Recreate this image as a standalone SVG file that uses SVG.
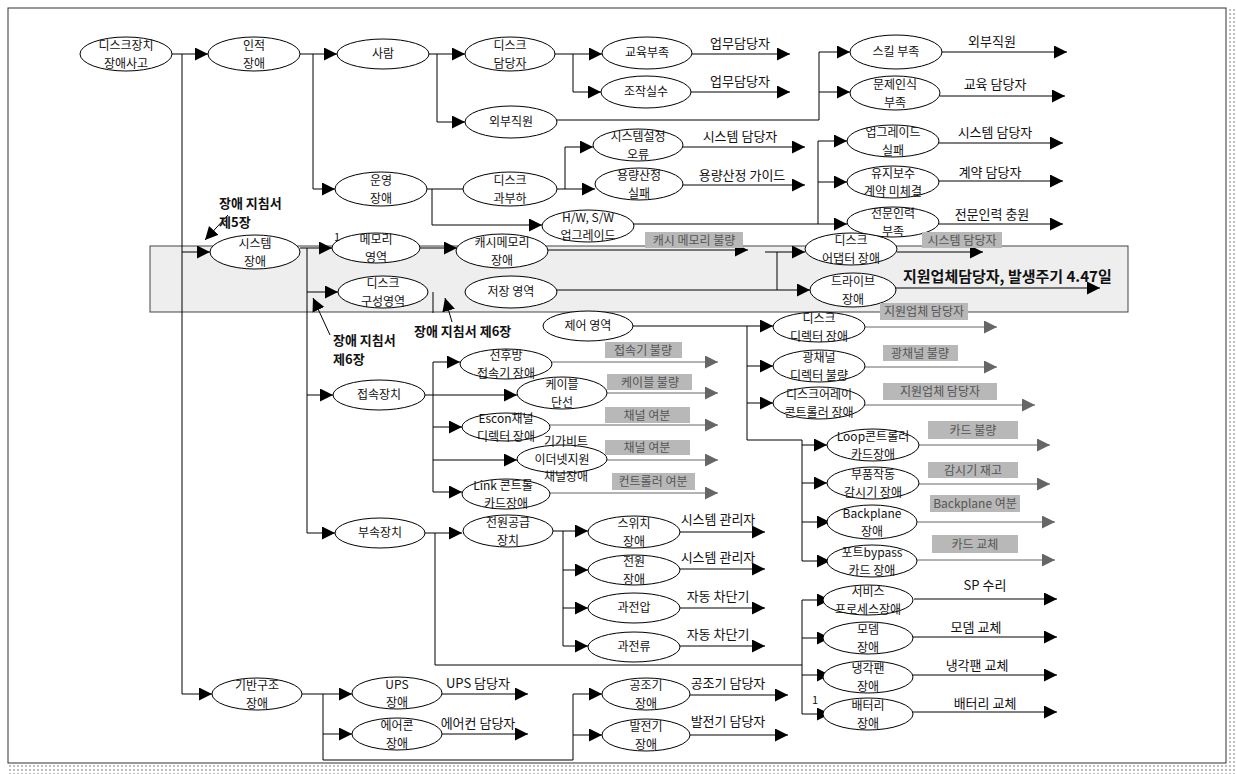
<svg xmlns="http://www.w3.org/2000/svg" width="1236" height="774" viewBox="0 0 1236 774">
<style>
.n ellipse{fill:#fff;stroke:#000;stroke-width:1}
.n text,.t{font-family:"Noto Sans CJK KR","Noto Sans",sans-serif;font-size:12px;fill:#111;text-anchor:middle}
.t{font-size:13px}
.b{font-weight:bold;text-anchor:start}
.c path{fill:none;stroke:#000;stroke-width:1}
.c .g{stroke:#666}
.gb rect{fill:#b8b8b8}
.gb text{font-family:"Noto Sans CJK KR","Noto Sans",sans-serif;font-size:12px;fill:#555;text-anchor:middle}
</style>
<defs>
<marker id="a" markerUnits="userSpaceOnUse" markerWidth="14" markerHeight="14" refX="13" refY="6.5" orient="auto"><path d="M0,0 L13,6.5 L0,13 z" fill="#000"/></marker>
<marker id="ag" markerUnits="userSpaceOnUse" markerWidth="14" markerHeight="14" refX="13" refY="6.5" orient="auto"><path d="M0,0 L13,6.5 L0,13 z" fill="#666"/></marker>
<pattern id="dots" width="4" height="4" patternUnits="userSpaceOnUse"><rect width="4" height="4" fill="#fff"/><circle cx="2" cy="2" r="1" fill="#aaa"/></pattern>
</defs>
<rect width="1236" height="774" fill="#fff"/>
<rect x="1228" y="8" width="8" height="766" fill="url(#dots)"/>
<rect x="8" y="765" width="1228" height="9" fill="url(#dots)"/>
<rect x="8" y="8" width="1218" height="755" fill="none" stroke="#333" stroke-width="1"/>
<rect x="150" y="246" width="978" height="66" fill="#eeeeee" stroke="#444" stroke-width="1"/>

<g class="c">
<path d="M172,54 H208" marker-end="url(#a)"/>
<path d="M182,54 V694 H212" marker-end="url(#a)"/>
<path d="M182,252 H210" marker-end="url(#a)"/>
<path d="M228,215 L205,240" marker-end="url(#a)"/>
<path d="M300,54 H337" marker-end="url(#a)"/>
<path d="M313,54 V189 H335" marker-end="url(#a)"/>
<path d="M428,54 H465" marker-end="url(#a)"/>
<path d="M437,54 V122 H465" marker-end="url(#a)"/>
<path d="M555,54 H602" marker-end="url(#a)"/>
<path d="M573,54 V92 H601" marker-end="url(#a)"/>
<path d="M691,54 H790" marker-end="url(#a)"/>
<path d="M691,92 H790" marker-end="url(#a)"/>
<path d="M557,120 H819 V52 H850" marker-end="url(#a)"/>
<path d="M819,92 H850" marker-end="url(#a)"/>
<path d="M942,52 H1067" marker-end="url(#a)"/>
<path d="M940,96 H1065" marker-end="url(#a)"/>
<path d="M427,189 H463"/>
<path d="M432,189 V225 H542" marker-end="url(#a)"/>
<path d="M557,189 H595" marker-end="url(#a)"/>
<path d="M565,189 V147 H593" marker-end="url(#a)"/>
<path d="M683,147 H805" marker-end="url(#a)"/>
<path d="M682,185 H805" marker-end="url(#a)"/>
<path d="M633,224 H847" marker-end="url(#a)"/>
<path d="M818,224 V141 H847" marker-end="url(#a)"/>
<path d="M818,182 H847" marker-end="url(#a)"/>
<path d="M939,143 H1063" marker-end="url(#a)"/>
<path d="M939,181 H1063" marker-end="url(#a)"/>
<path d="M939,224 H1063" marker-end="url(#a)"/>
<path d="M300,248 H332" marker-end="url(#a)"/>
<path d="M307,248 V533 H335" marker-end="url(#a)"/>
<path d="M307,292 H338" marker-end="url(#a)"/>
<path d="M307,395 H333" marker-end="url(#a)"/>
<path d="M330,335 L313,298" marker-end="url(#a)"/>
<path d="M452,322 L445,298" marker-end="url(#a)"/>
<path d="M433,292 V313"/>
<path d="M420,248 H457" marker-end="url(#a)"/>
<path d="M548,250 H748" marker-end="url(#a)"/>
<path d="M765,252 H805" marker-end="url(#a)"/>
<path d="M777,252 V290"/>
<path d="M557,290 H810" marker-end="url(#a)"/>
<path d="M897,252 H983" marker-end="url(#a)"/>
<path d="M896,288 H1100" marker-end="url(#a)"/>
<path d="M633,326 H773" marker-end="url(#a)"/>
<path d="M747,326 V440 H802 V561 H830" marker-end="url(#a)"/>
<path d="M747,366 H773" marker-end="url(#a)"/>
<path d="M747,403 H773" marker-end="url(#a)"/>
<path d="M802,445 H827" marker-end="url(#a)"/>
<path d="M802,483 H827" marker-end="url(#a)"/>
<path d="M802,522 H830" marker-end="url(#a)"/>
<path class="g" d="M865,327 H997" marker-end="url(#ag)"/>
<path class="g" d="M865,367 H997" marker-end="url(#ag)"/>
<path class="g" d="M865,405 H1035" marker-end="url(#ag)"/>
<path class="g" d="M919,445 H1050" marker-end="url(#ag)"/>
<path class="g" d="M919,484 H1050" marker-end="url(#ag)"/>
<path class="g" d="M917,522 H1055" marker-end="url(#ag)"/>
<path class="g" d="M917,560 H1055" marker-end="url(#ag)"/>
<path d="M914,599 H1057" marker-end="url(#a)"/>
<path d="M913,637 H1057" marker-end="url(#a)"/>
<path d="M913,675 H1057" marker-end="url(#a)"/>
<path d="M913,712 H1057" marker-end="url(#a)"/>
<path d="M425,533 H462" marker-end="url(#a)"/>
<path d="M435,533 V665 H802"/>
<path d="M802,714 V600 H830" marker-end="url(#a)"/>
<path d="M802,638 H830" marker-end="url(#a)"/>
<path d="M802,675 H830" marker-end="url(#a)"/>
<path d="M802,714 H830" marker-end="url(#a)"/>
<path d="M553,531 H588" marker-end="url(#a)"/>
<path d="M563,531 V646 H588" marker-end="url(#a)"/>
<path d="M563,570 H588" marker-end="url(#a)"/>
<path d="M563,608 H588" marker-end="url(#a)"/>
<path d="M680,532 H765" marker-end="url(#a)"/>
<path d="M680,569 H765" marker-end="url(#a)"/>
<path d="M680,608 H765" marker-end="url(#a)"/>
<path d="M680,646 H765" marker-end="url(#a)"/>
<path d="M425,395 H517" marker-end="url(#a)"/>
<path d="M433,362 V492 H462" marker-end="url(#a)"/>
<path d="M433,362 H460" marker-end="url(#a)"/>
<path d="M433,427 H462" marker-end="url(#a)"/>
<path d="M433,460 H517" marker-end="url(#a)"/>
<path class="g" d="M552,362 H718" marker-end="url(#ag)"/>
<path class="g" d="M607,393 H718" marker-end="url(#ag)"/>
<path class="g" d="M550,425 H718" marker-end="url(#ag)"/>
<path class="g" d="M607,460 H718" marker-end="url(#ag)"/>
<path class="g" d="M550,493 H718" marker-end="url(#ag)"/>
<path d="M302,694 H352" marker-end="url(#a)"/>
<path d="M323,694 V760 H573 V694 H602" marker-end="url(#a)"/>
<path d="M323,734 H352" marker-end="url(#a)"/>
<path d="M573,735 H602" marker-end="url(#a)"/>
<path d="M442,694 H528" marker-end="url(#a)"/>
<path d="M442,734 H528" marker-end="url(#a)"/>
<path d="M690,695 H788" marker-end="url(#a)"/>
<path d="M690,735 H788" marker-end="url(#a)"/>
</g>

<g class="n" id="n1"><ellipse cx="126" cy="54" rx="46" ry="17"/><text x="126" y="50">디스크장치</text><text x="126" y="67.5">장애사고</text></g>
<g class="n" id="n2"><ellipse cx="254" cy="54" rx="46" ry="17"/><text x="254" y="50">인적</text><text x="254" y="67.5">장애</text></g>
<g class="n" id="n3"><ellipse cx="383" cy="54" rx="46" ry="15"/><text x="383" y="58">사람</text></g>
<g class="n" id="n4"><ellipse cx="510" cy="54" rx="45" ry="17"/><text x="510" y="50">디스크</text><text x="510" y="67.5">담당자</text></g>
<g class="n" id="n5"><ellipse cx="647" cy="53" rx="45" ry="16"/><text x="647" y="57">교육부족</text></g>
<g class="n" id="n6"><ellipse cx="646" cy="92" rx="45" ry="16"/><text x="646" y="96">조작실수</text></g>
<g class="n" id="n7"><ellipse cx="511" cy="122" rx="46" ry="16"/><text x="511" y="126">외부직원</text></g>
<g class="n" id="n8"><ellipse cx="896" cy="52" rx="46" ry="17"/><text x="896" y="56">스킬 부족</text></g>
<g class="n" id="n9"><ellipse cx="895" cy="93" rx="45" ry="17"/><text x="895" y="89">문제인식</text><text x="895" y="106.5">부족</text></g>
<g class="n" id="n10"><ellipse cx="381" cy="189" rx="46" ry="17"/><text x="381" y="185">운영</text><text x="381" y="202.5">장애</text></g>
<g class="n" id="n11"><ellipse cx="510" cy="189" rx="47" ry="17"/><text x="510" y="185">디스크</text><text x="510" y="202.5">과부하</text></g>
<g class="n" id="n12"><ellipse cx="638" cy="145" rx="45" ry="16"/><text x="638" y="141">시스템설정</text><text x="638" y="158.5">오류</text></g>
<g class="n" id="n13"><ellipse cx="639" cy="184" rx="44" ry="16"/><text x="639" y="180">용량산정</text><text x="639" y="197.5">실패</text></g>
<g class="n" id="n14"><ellipse cx="588" cy="226" rx="46" ry="16"/><text x="588" y="222">H/W, S/W</text><text x="588" y="239.5">업그레이드</text></g>
<g class="n" id="n15"><ellipse cx="893" cy="141" rx="46" ry="16"/><text x="893" y="137">업그레이드</text><text x="893" y="154.5">실패</text></g>
<g class="n" id="n16"><ellipse cx="893" cy="182" rx="46" ry="16"/><text x="893" y="178">유지보수</text><text x="893" y="195.5">계약 미체결</text></g>
<g class="n" id="n17"><ellipse cx="893" cy="222" rx="46" ry="15"/><text x="893" y="218">전문인력</text><text x="893" y="235.5">부족</text></g>
<g class="n" id="n18"><ellipse cx="255" cy="252" rx="45" ry="17"/><text x="255" y="248">시스템</text><text x="255" y="265.5">장애</text></g>
<g class="n" id="n19"><ellipse cx="376" cy="248" rx="44" ry="15"/><text x="376" y="244">메모리</text><text x="376" y="261.5">영역</text></g>
<g class="n" id="n20"><ellipse cx="502" cy="251" rx="46" ry="17"/><text x="502" y="247">캐시메모리</text><text x="502" y="264.5">장애</text></g>
<g class="n" id="n21"><ellipse cx="383" cy="292" rx="45" ry="16"/><text x="383" y="288">디스크</text><text x="383" y="305.5">구성영역</text></g>
<g class="n" id="n22"><ellipse cx="511" cy="292" rx="46" ry="16"/><text x="511" y="296">저장 영역</text></g>
<g class="n" id="n23"><ellipse cx="588" cy="326" rx="45" ry="15"/><text x="588" y="330">제어 영역</text></g>
<g class="n" id="n24"><ellipse cx="851" cy="249" rx="46" ry="16"/><text x="851" y="245">디스크</text><text x="851" y="262.5">어댑터 장애</text></g>
<g class="n" id="n25"><ellipse cx="853" cy="290" rx="43" ry="17"/><text x="853" y="286">드라이브</text><text x="853" y="303.5">장애</text></g>
<g class="n" id="n26"><ellipse cx="819" cy="327" rx="46" ry="15"/><text x="819" y="323">디스크</text><text x="819" y="340.5">디렉터 장애</text></g>
<g class="n" id="n27"><ellipse cx="819" cy="366" rx="46" ry="16"/><text x="819" y="362">광채널</text><text x="819" y="379.5">디렉터 불량</text></g>
<g class="n" id="n28"><ellipse cx="819" cy="403" rx="46" ry="16"/><text x="819" y="399">디스크어레이</text><text x="819" y="416.5">콘트롤러 장애</text></g>
<g class="n" id="n29"><ellipse cx="873" cy="445" rx="46" ry="16"/><text x="873" y="441">Loop콘트롤러</text><text x="873" y="458.5">카드장애</text></g>
<g class="n" id="n30"><ellipse cx="873" cy="483" rx="46" ry="16"/><text x="873" y="479">부품작동</text><text x="873" y="496.5">감시기 장애</text></g>
<g class="n" id="n31"><ellipse cx="872" cy="522" rx="45" ry="17"/><text x="872" y="518">Backplane</text><text x="872" y="535.5">장애</text></g>
<g class="n" id="n32"><ellipse cx="872" cy="561" rx="45" ry="16"/><text x="872" y="557">포트bypass</text><text x="872" y="574.5">카드 장애</text></g>
<g class="n" id="n33"><ellipse cx="868" cy="600" rx="45" ry="15"/><text x="868" y="596">서비스</text><text x="868" y="613.5">프로세스장애</text></g>
<g class="n" id="n34"><ellipse cx="868" cy="638" rx="45" ry="16"/><text x="868" y="634">모뎀</text><text x="868" y="651.5">장애</text></g>
<g class="n" id="n35"><ellipse cx="868" cy="677" rx="45" ry="16"/><text x="868" y="673">냉각팬</text><text x="868" y="690.5">장애</text></g>
<g class="n" id="n36"><ellipse cx="868" cy="714" rx="45" ry="16"/><text x="868" y="710">배터리</text><text x="868" y="727.5">장애</text></g>
<g class="n" id="n37"><ellipse cx="379" cy="395" rx="46" ry="15"/><text x="379" y="399">접속장치</text></g>
<g class="n" id="n38"><ellipse cx="506" cy="364" rx="46" ry="15"/><text x="506" y="360">선후방</text><text x="506" y="377.5">접속기 장애</text></g>
<g class="n" id="n39"><ellipse cx="562" cy="393" rx="45" ry="16"/><text x="562" y="389">케이블</text><text x="562" y="406.5">단선</text></g>
<g class="n" id="n40"><ellipse cx="506" cy="427" rx="44" ry="14"/><text x="506" y="423">Escon채널</text><text x="506" y="440.5">디렉터 장애</text></g>
<g class="n" id="n41"><ellipse cx="562" cy="459" rx="45" ry="14"/><text x="566" y="446">기가비트</text><text x="562" y="463.5">이더넷지원</text><text x="566" y="481">채널장애</text></g>
<g class="n" id="n42"><ellipse cx="506" cy="494" rx="44" ry="15"/><text x="503" y="490">Link 콘트롤</text><text x="506" y="507.5">카드장애</text></g>
<g class="n" id="n43"><ellipse cx="380" cy="533" rx="45" ry="15"/><text x="380" y="537">부속장치</text></g>
<g class="n" id="n44"><ellipse cx="508" cy="531" rx="45" ry="16"/><text x="508" y="527">전원공급</text><text x="508" y="544.5">장치</text></g>
<g class="n" id="n45"><ellipse cx="634" cy="532" rx="46" ry="16"/><text x="634" y="528">스위치</text><text x="634" y="545.5">장애</text></g>
<g class="n" id="n46"><ellipse cx="634" cy="570" rx="46" ry="15"/><text x="634" y="566">전원</text><text x="634" y="583.5">장애</text></g>
<g class="n" id="n47"><ellipse cx="634" cy="608" rx="46" ry="15"/><text x="634" y="612">과전압</text></g>
<g class="n" id="n48"><ellipse cx="634" cy="647" rx="46" ry="15"/><text x="634" y="651">과전류</text></g>
<g class="n" id="n49"><ellipse cx="257" cy="694" rx="45" ry="16"/><text x="257" y="690">기반구조</text><text x="257" y="707.5">장애</text></g>
<g class="n" id="n50"><ellipse cx="397" cy="693" rx="45" ry="16"/><text x="397" y="689">UPS</text><text x="397" y="706.5">장애</text></g>
<g class="n" id="n51"><ellipse cx="397" cy="734" rx="45" ry="16"/><text x="397" y="730">에어콘</text><text x="397" y="747.5">장애</text></g>
<g class="n" id="n52"><ellipse cx="646" cy="694" rx="44" ry="16"/><text x="646" y="690">공조기</text><text x="646" y="707.5">장애</text></g>
<g class="n" id="n53"><ellipse cx="646" cy="735" rx="44" ry="16"/><text x="646" y="731">발전기</text><text x="646" y="748.5">장애</text></g>

<g id="labels">
<text class="t" x="740" y="48">업무담당자</text>
<text class="t" x="740" y="86">업무담당자</text>
<text class="t" x="992" y="46">외부직원</text>
<text class="t" x="995" y="89">교육 담당자</text>
<text class="t" x="740" y="141">시스템 담당자</text>
<text class="t" x="742" y="180">용량산정 가이드</text>
<text class="t" x="995" y="137">시스템 담당자</text>
<text class="t" x="990" y="177">계약 담당자</text>
<text class="t" x="992" y="219">전문인력 충원</text>
<text class="t" x="718" y="524">시스템 관리자</text>
<text class="t" x="718" y="562">시스템 관리자</text>
<text class="t" x="718" y="601">자동 차단기</text>
<text class="t" x="718" y="639">자동 차단기</text>
<text class="t" x="985" y="590">SP 수리</text>
<text class="t" x="976" y="632">모뎀 교체</text>
<text class="t" x="977" y="670">냉각팬 교체</text>
<text class="t" x="985" y="708">배터리 교체</text>
<text class="t" x="478" y="688">UPS 담당자</text>
<text class="t" x="478" y="728">에어컨 담당자</text>
<text class="t" x="728" y="688">공조기 담당자</text>
<text class="t" x="728" y="726">발전기 담당자</text>
<text class="t b" x="219" y="208">장애 지침서</text>
<text class="t b" x="219" y="227">제5장</text>
<text class="t b" x="333" y="345">장애 지침서</text>
<text class="t b" x="333" y="364">제6장</text>
<text class="t b" x="414" y="336">장애 지침서 제6장</text>
<text class="t b" x="903" y="282" style="font-size:15px">지원업체담당자, 발생주기 4.47일</text>
<text class="t" x="337" y="241" style="font-size:11px">1</text>
<text class="t" x="815" y="704" style="font-size:11px">1</text>
</g>

<g class="gb" id="graylabels">
<rect x="645" y="232" width="98" height="16"/><text x="694" y="245">캐시 메모리 불량</text>
<rect x="922" y="232" width="80" height="16"/><text x="962" y="245">시스템 담당자</text>
<rect x="880" y="303" width="88" height="17"/><text x="924" y="316">지원업체 담당자</text>
<rect x="883" y="345" width="75" height="16"/><text x="920" y="358">광채널  불량</text>
<rect x="883" y="383" width="114" height="17"/><text x="940" y="396">지원업체 담당자</text>
<rect x="928" y="421" width="90" height="18"/><text x="973" y="435">카드 불량</text>
<rect x="928" y="462" width="90" height="16"/><text x="973" y="475">감시기 재고</text>
<rect x="930" y="495" width="90" height="17"/><text x="975" y="508">Backplane 여분</text>
<rect x="932" y="535" width="86" height="18"/><text x="975" y="549">카드 교체</text>
<rect x="605" y="342" width="77" height="16"/><text x="643" y="355">접속기 불량</text>
<rect x="607" y="374" width="85" height="16"/><text x="650" y="387">케이블 불량</text>
<rect x="605" y="407" width="85" height="16"/><text x="647" y="420">채널 여분</text>
<rect x="605" y="440" width="85" height="15"/><text x="647" y="452">채널 여분</text>
<rect x="612" y="473" width="83" height="17"/><text x="653" y="486">컨트롤러 여분</text>
</g>
</svg>
